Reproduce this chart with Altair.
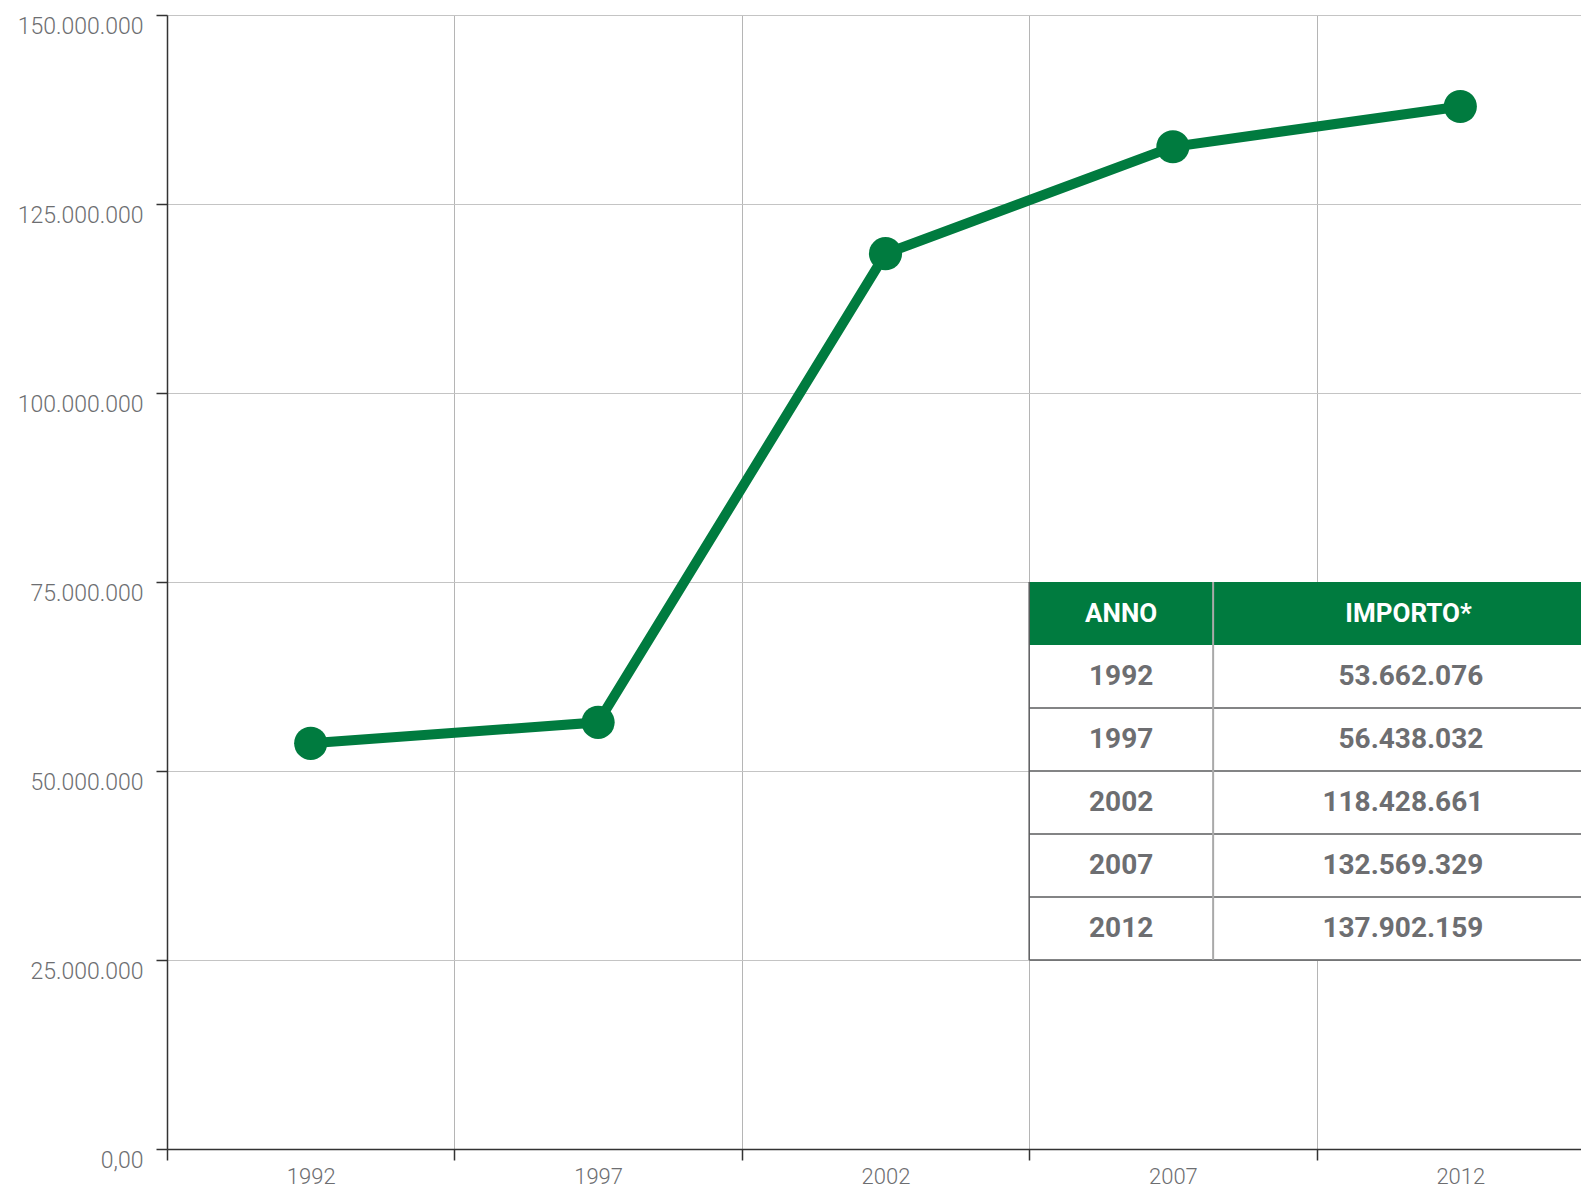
import altair as alt
import pandas as pd

# ---- data ----
years = [1992, 1997, 2002, 2007, 2012]
importi = [53662076, 56438032, 118428661, 132569329, 137902159]
y_ticks = [0, 25000000, 50000000, 75000000, 100000000, 125000000, 150000000]
header_labels = ["ANNO", "IMPORTO*"]

# ---- styling / layout constants ----
GREEN = "#007b3f"
GREY_TXT = "#6d6e71"
FONT = "Roboto"
X_MIN, X_MAX = 1989.5, 2014.1          # plot spans half a band before 1992 and is cut on the right
band_edges = [1989.5, 1994.5, 1999.5, 2004.5, 2009.5]
TABLE_TOP, TABLE_BOTTOM = 75000000, 25000000
TABLE_LEFT, TABLE_DIV = 2004.5, 2007.7
COL_YEAR_X, COL_VAL_X, COL_HEAD2_X = 2006.1, 2012.4, 2011.1
n_rows = len(years) + 1
row_h = (TABLE_TOP - TABLE_BOTTOM) / n_rows

def fmt_it(v):
    return f"{v:,}".replace(",", ".")

df = pd.DataFrame({"anno": years, "importo": importi})

x_scale = alt.Scale(domain=[X_MIN, X_MAX], nice=False, zero=False)
y_scale = alt.Scale(domain=[0, 150000000], nice=False)

x_axis = alt.Axis(
    values=sorted(band_edges + years),
    title=None,
    labelExpr="datum.value % 1 === 0 ? format(datum.value, 'd') : ''",
    gridOpacity={"condition": {"test": "datum.value % 1 === 0", "value": 0}, "value": 1},
    tickOpacity={"condition": {"test": "datum.value % 1 === 0", "value": 0}, "value": 1},
    labelFlush=False, labelOverlap=False,
    tickSize=11, tickColor="#333333", tickWidth=1.5,
    domainColor="#333333", domainWidth=1.5,
    gridColor="#b5b5b5", gridWidth=1,
    labelFont=FONT, labelFontSize=22, labelFontWeight=300, labelColor=GREY_TXT,
    labelBaseline="top", labelPadding=6,
)
y_axis = alt.Axis(
    values=y_ticks,
    title=None,
    labelExpr="datum.value == 0 ? '0,00' : replace(format(datum.value, ',d'), regexp(',', 'g'), '.')",
    tickSize=11, tickColor="#333333", tickWidth=1.5,
    domainColor="#333333", domainWidth=1.5,
    gridColor="#c4c4c4", gridWidth=1,
    labelFont=FONT, labelFontSize=23, labelFontWeight=300, labelColor=GREY_TXT,
    labelBaseline="top", labelAlign="right", labelPadding=13, labelOffset=0,
    labelFlush=False, labelOverlap=False,
)

base = alt.Chart(df)

line = base.mark_line(color=GREEN, strokeWidth=10).encode(
    x=alt.X("anno:Q", scale=x_scale, axis=x_axis),
    y=alt.Y("importo:Q", scale=y_scale, axis=y_axis),
)
points = base.mark_circle(color=GREEN, size=1100, opacity=1).encode(
    x=alt.X("anno:Q", scale=x_scale),
    y=alt.Y("importo:Q", scale=y_scale),
)

# ---- table overlay ----
rows_df = pd.DataFrame({
    "anno_txt": [str(a) for a in years],
    "imp_txt": [fmt_it(v) for v in importi],
    "ymid": [TABLE_TOP - (i + 1.5) * row_h for i in range(len(years))],
})
body_df = pd.DataFrame({"x": [TABLE_LEFT], "x2": [X_MAX], "y": [TABLE_BOTTOM], "y2": [TABLE_TOP - row_h]})
head_box_df = pd.DataFrame({"x": [TABLE_LEFT], "x2": [X_MAX], "y": [TABLE_TOP - row_h], "y2": [TABLE_TOP]})

body_bg = alt.Chart(body_df).mark_rect(color="#ffffff", strokeWidth=0).encode(
    x=alt.X("x:Q", scale=x_scale), x2="x2:Q",
    y=alt.Y("y:Q", scale=y_scale), y2="y2:Q",
)
head_bg = alt.Chart(head_box_df).mark_rect(color=GREEN, strokeWidth=0).encode(
    x=alt.X("x:Q", scale=x_scale), x2="x2:Q",
    y=alt.Y("y:Q", scale=y_scale), y2="y2:Q",
)
hline_df = pd.DataFrame({
    "y": [TABLE_TOP - (i + 2) * row_h for i in range(len(years))],
    "x": TABLE_LEFT, "x2": X_MAX,
})
hlines = alt.Chart(hline_df).mark_rule(color="#5a5b5d", strokeWidth=1.5).encode(
    x=alt.X("x:Q", scale=x_scale), x2="x2:Q", y=alt.Y("y:Q", scale=y_scale),
)
edge_df = pd.DataFrame({"x": [TABLE_LEFT], "y": [TABLE_BOTTOM], "y2": [TABLE_TOP]})
div_df = pd.DataFrame({"x": [TABLE_DIV], "y": [TABLE_BOTTOM], "y2": [TABLE_TOP]})
edge_line = alt.Chart(edge_df).mark_rule(color="#5a5b5d", strokeWidth=1.5).encode(
    x=alt.X("x:Q", scale=x_scale), y=alt.Y("y:Q", scale=y_scale), y2="y2:Q",
)
div_line = alt.Chart(div_df).mark_rule(color="#a9a9a9", strokeWidth=2).encode(
    x=alt.X("x:Q", scale=x_scale), y=alt.Y("y:Q", scale=y_scale), y2="y2:Q",
)
year_txt = alt.Chart(rows_df).mark_text(
    font=FONT, fontSize=28, fontWeight="bold", color=GREY_TXT, align="center", baseline="middle"
).encode(
    x=alt.datum(COL_YEAR_X, scale=x_scale), y=alt.Y("ymid:Q", scale=y_scale), text="anno_txt:N",
)
val_txt = alt.Chart(rows_df).mark_text(
    font=FONT, fontSize=28, fontWeight="bold", color=GREY_TXT, align="right", baseline="middle"
).encode(
    x=alt.datum(COL_VAL_X, scale=x_scale), y=alt.Y("ymid:Q", scale=y_scale), text="imp_txt:N",
)
head_df = pd.DataFrame({
    "label": header_labels, "x": [COL_YEAR_X, COL_HEAD2_X],
    "y": [TABLE_TOP - 0.5 * row_h] * 2,
})
head_txt = alt.Chart(head_df).mark_text(
    font=FONT, fontSize=26, fontWeight="bold", color="#ffffff", align="center", baseline="middle"
).encode(
    x=alt.X("x:Q", scale=x_scale), y=alt.Y("y:Q", scale=y_scale), text="label:N",
)

chart = alt.layer(
    line, body_bg, head_bg, hlines, edge_line, div_line, year_txt, val_txt, head_txt, points
).properties(
    width=1414, height=1134,
    autosize=alt.AutoSizeParams(type="none"),
    padding={"left": 159, "top": 7, "right": 0, "bottom": 40},
    background="#ffffff",
).configure_view(stroke=None)

chart.save("out.html", embed_options={"renderer": "svg", "actions": False})
